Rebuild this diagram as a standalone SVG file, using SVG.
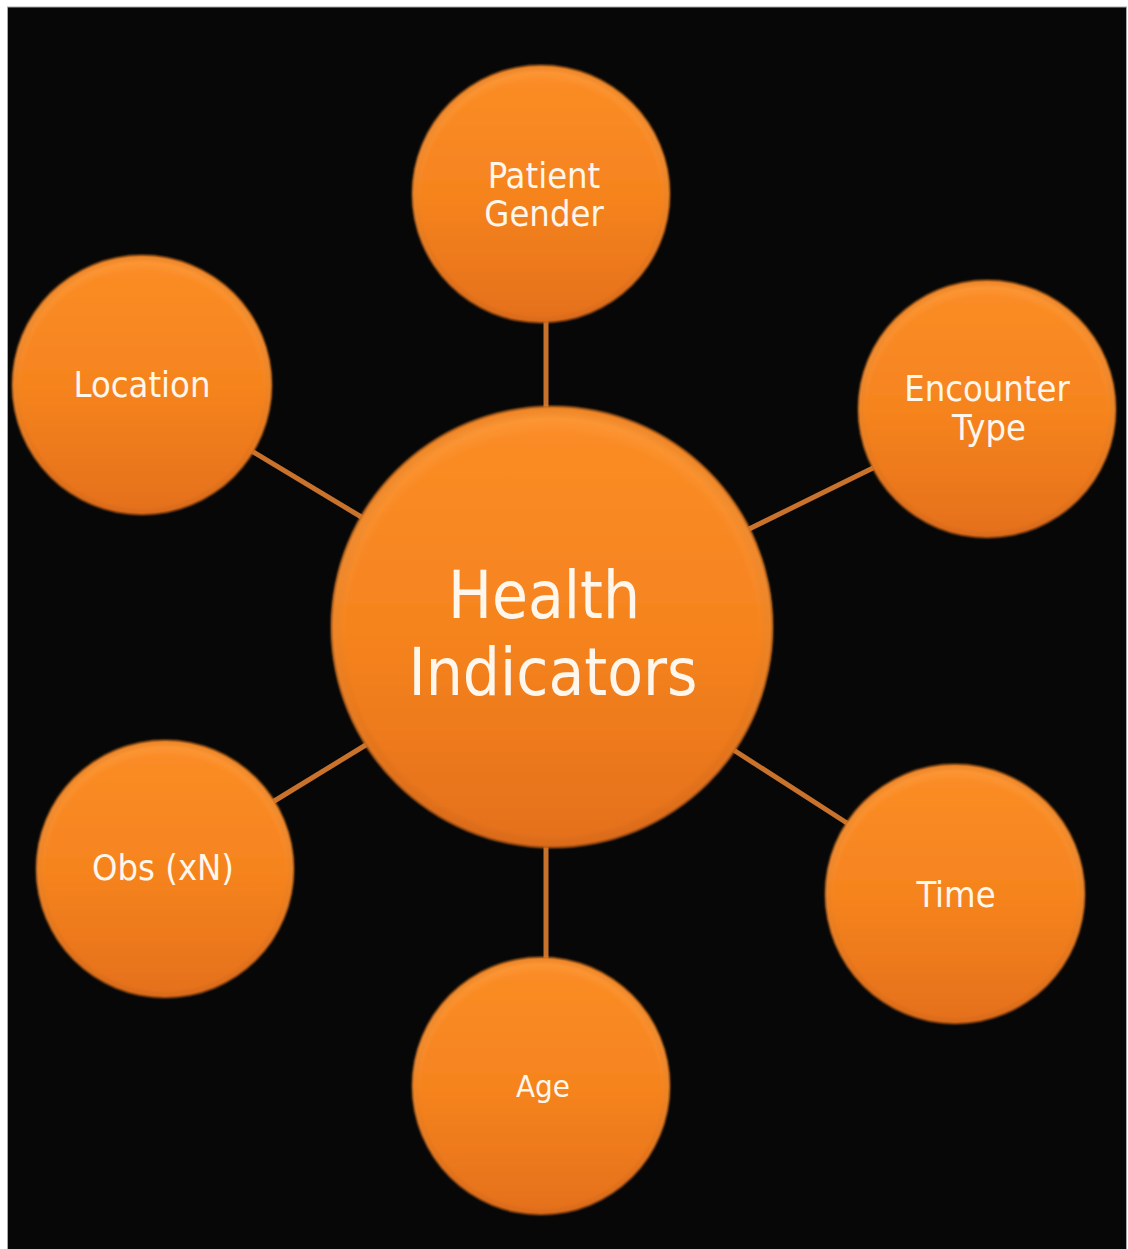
<svg xmlns="http://www.w3.org/2000/svg" width="1128" height="1249" viewBox="0 0 1128 1249">
  <defs>
    <linearGradient id="orangeFill" x1="0" y1="0" x2="0" y2="1">
      <stop offset="0" stop-color="#fb8d26"/>
      <stop offset="0.5" stop-color="#f6841f"/>
      <stop offset="1" stop-color="#e4701c"/>
    </linearGradient>
    <radialGradient id="rimShade" cx="0.5" cy="0.5" r="0.5">
      <stop offset="0.94" stop-color="#000" stop-opacity="0"/>
      <stop offset="0.985" stop-color="#7a3000" stop-opacity="0.08"/>
      <stop offset="1" stop-color="#5a2200" stop-opacity="0.3"/>
    </radialGradient>
    <radialGradient id="topGlow" cx="0.5" cy="0.53" r="0.53">
      <stop offset="0.88" stop-color="#ffb060" stop-opacity="0"/>
      <stop offset="0.95" stop-color="#ffab55" stop-opacity="0.3"/>
      <stop offset="1" stop-color="#ffab55" stop-opacity="0"/>
    </radialGradient>
    <filter id="soft" x="-5%" y="-5%" width="110%" height="110%">
      <feGaussianBlur stdDeviation="0.8"/>
    </filter>
  </defs>
  <style>
    .bubble { fill: url(#orangeFill); filter: url(#soft); }
    .rim { fill: url(#rimShade); }
    .glow { fill: url(#topGlow); }
    .link { stroke: #c9722c; stroke-width: 5; stroke-linecap: butt; }
    .label { fill: #fff6ec; font-family: "DejaVu Sans Condensed", "DejaVu Sans", sans-serif; font-stretch: condensed; text-anchor: middle; }
    .small { font-size: 36px; }
    .big { font-size: 65px; }
  </style>

  <!-- page frame -->
  <rect x="0" y="0" width="1128" height="1249" fill="#ffffff"/>
  <rect x="7.5" y="7" width="1119" height="1243" fill="#070707" stroke="#a8a8a8" stroke-width="1"/>

  <!-- spokes from the hub to each factor -->
  <g id="connectors">
    <line class="link" x1="546" y1="318" x2="546" y2="418"/>
    <line class="link" x1="546" y1="836" x2="546" y2="962"/>
    <line class="link" x1="250" y1="450" x2="368" y2="521"/>
    <line class="link" x1="732" y1="749" x2="850" y2="825"/>
    <line class="link" x1="745" y1="531" x2="877" y2="466"/>
    <line class="link" x1="271" y1="803" x2="369" y2="743"/>
  </g>

  <g id="hub">
    <circle class="bubble" cx="552" cy="627" r="221"/>
    <circle class="glow" cx="552" cy="627" r="221"/>
    <circle class="rim" cx="552" cy="627" r="221"/>
    <text class="label big" x="544" y="618">Health</text>
    <text class="label big" x="553" y="695">Indicators</text>
  </g>

  <g id="patient-gender">
    <circle class="bubble" cx="541" cy="194" r="129"/>
    <circle class="glow" cx="541" cy="194" r="129"/>
    <circle class="rim" cx="541" cy="194" r="129"/>
    <text class="label small" x="544" y="188">Patient</text>
    <text class="label small" x="544" y="226">Gender</text>
  </g>

  <g id="encounter-type">
    <circle class="bubble" cx="987" cy="409" r="129"/>
    <circle class="glow" cx="987" cy="409" r="129"/>
    <circle class="rim" cx="987" cy="409" r="129"/>
    <text class="label small" x="987" y="401">Encounter</text>
    <text class="label small" x="989" y="440">Type</text>
  </g>

  <g id="time">
    <circle class="bubble" cx="955" cy="894" r="130"/>
    <circle class="glow" cx="955" cy="894" r="130"/>
    <circle class="rim" cx="955" cy="894" r="130"/>
    <text class="label small" x="956" y="907">Time</text>
  </g>

  <g id="age">
    <circle class="bubble" cx="541" cy="1086" r="129"/>
    <circle class="glow" cx="541" cy="1086" r="129"/>
    <circle class="rim" cx="541" cy="1086" r="129"/>
    <text class="label" x="543" y="1097" font-size="31">Age</text>
  </g>

  <g id="obs">
    <circle class="bubble" cx="165" cy="869" r="129"/>
    <circle class="glow" cx="165" cy="869" r="129"/>
    <circle class="rim" cx="165" cy="869" r="129"/>
    <text class="label small" x="163" y="880">Obs (xN)</text>
  </g>

  <g id="location">
    <circle class="bubble" cx="142" cy="385" r="130"/>
    <circle class="glow" cx="142" cy="385" r="130"/>
    <circle class="rim" cx="142" cy="385" r="130"/>
    <text class="label small" x="142" y="397">Location</text>
  </g>
</svg>
